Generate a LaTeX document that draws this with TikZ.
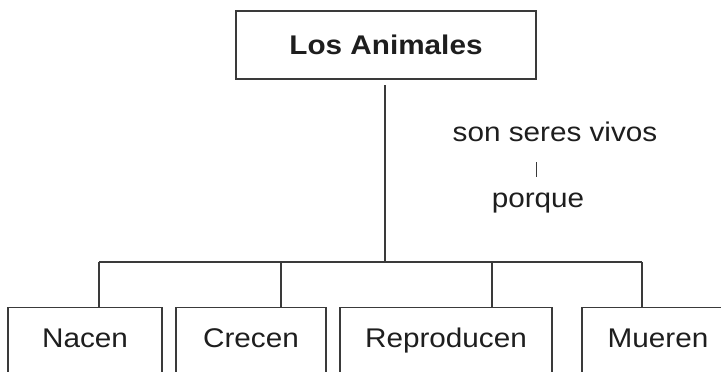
\documentclass[tikz,border=0pt]{standalone}
\usepackage{fontspec}
\setmainfont{Liberation Sans}[FakeStretch=1.1]
\definecolor{linegray}{HTML}{3A3A3A}
\definecolor{textdark}{HTML}{1E1E1E}
\begin{document}
\begin{tikzpicture}[x=1pt,y=-1pt,
  conn/.style={draw=linegray,line width=1.1pt},
  topbox/.style={draw=linegray,line width=1.1pt,minimum width=300pt,minimum height=68pt,
    text height=19.3pt,text depth=0pt,inner sep=0pt,text=textdark,
    font=\fontsize{27}{32}\selectfont\bfseries},
  leafbox/.style={draw=linegray,line width=1.1pt,anchor=north,inner xsep=0pt,inner ysep=20.5pt,
    text height=19.3pt,text depth=22pt,text=textdark,font=\fontsize{27}{32}\selectfont},
  plain/.style={anchor=base,inner sep=0pt,text=textdark,font=\fontsize{27}{32}\selectfont}]
\useasboundingbox (0,0) rectangle (721,372);
\fill[white] (0,0) rectangle (721,372);
% top node
\node[topbox] (animales) at (386,45) {Los Animales};
% side texts
\node[plain] (seres) at (555,141) {son seres vivos};
\node[plain] (porque) at (538,207) {porque};
\coordinate (bartop) at (536,162);
\coordinate (barbot) at (536,177);
\draw[conn,line width=1pt] (bartop) -- (barbot);
% leaves
\node[leafbox,minimum width=154pt] (nacen) at (85,307) {Nacen};
\node[leafbox,minimum width=150pt] (crecen) at (251,307) {Crecen};
\node[leafbox,minimum width=212pt] (reproducen) at (446,307) {Reproducen};
\node[leafbox,minimum width=152pt] (mueren) at (658,307) {Mueren};
% bus
\coordinate (trunk) at (385,85);
\coordinate (hub) at (385,262);
\coordinate (b1) at (99,262);
\coordinate (b2) at (281,262);
\coordinate (b3) at (492,262);
\coordinate (b4) at (642,262);
\draw[conn] (trunk) -- (hub);
\draw[conn] (b1) -- (b4);
\draw[conn] (b1) -- (b1 |- nacen.north);
\draw[conn] (b2) -- (b2 |- crecen.north);
\draw[conn] (b3) -- (b3 |- reproducen.north);
\draw[conn] (b4) -- (b4 |- mueren.north);
\end{tikzpicture}
\end{document}
